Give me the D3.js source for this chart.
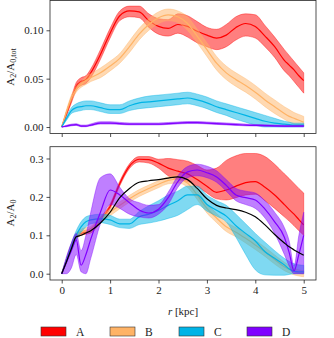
<!DOCTYPE html>
<html>
<head>
<meta charset="utf-8">
<script src="https://cdn.jsdelivr.net/npm/d3@7"></script>
<style>
  body { margin: 0; background: #fff; }
  svg text { font-family: "Liberation Serif", "DejaVu Serif", serif; fill: #222; }
</style>
</head>
<body>
<div id="viz"></div>
<script>
var width = 334, height = 338;

// radius grid (kpc)
var r = [0, 0.1, 0.2, 0.3, 0.4, 0.5, 0.6, 0.8, 1.0, 1.2, 1.4, 1.6, 1.8, 2.0, 2.2, 2.4, 2.6, 2.8, 3.0,
         3.2, 3.4, 3.6, 3.8, 4.0, 4.2, 4.4, 4.6, 4.7, 4.8, 4.9, 5.0];

var names = ["A", "B", "C", "D"];
var colors = ["#ff0000", "#ffb366", "#00b4e6", "#8000ff"];

// top panel: A2/A0,tot
var topA = [0, 0.014, 0.028, 0.042, 0.047, 0.049, 0.056, 0.075, 0.097, 0.115, 0.120, 0.119, 0.110, 0.104, 0.102, 0.106, 0.104, 0.099, 0.095, 0.092, 0.095, 0.103, 0.107, 0.104, 0.094, 0.083, 0.069, 0.064, 0.059, 0.053, 0.048];
var topAlo = [0, 0.012, 0.025, 0.038, 0.043, 0.045, 0.051, 0.070, 0.092, 0.110, 0.114, 0.113, 0.103, 0.096, 0.094, 0.097, 0.093, 0.087, 0.083, 0.080, 0.083, 0.090, 0.094, 0.092, 0.083, 0.072, 0.058, 0.053, 0.047, 0.041, 0.035];
var topAhi = [0, 0.016, 0.031, 0.046, 0.051, 0.053, 0.060, 0.080, 0.102, 0.120, 0.125, 0.125, 0.117, 0.112, 0.111, 0.117, 0.115, 0.109, 0.103, 0.101, 0.106, 0.114, 0.117, 0.116, 0.105, 0.093, 0.080, 0.074, 0.068, 0.062, 0.056];

var topB = [0, 0.016, 0.030, 0.039, 0.044, 0.048, 0.051, 0.056, 0.063, 0.071, 0.083, 0.096, 0.106, 0.113, 0.116, 0.114, 0.107, 0.094, 0.080, 0.066, 0.056, 0.049, 0.043, 0.036, 0.028, 0.021, 0.014, 0.011, 0.009, 0.007, 0.005];
var topBlo = [0, 0.014, 0.027, 0.036, 0.041, 0.044, 0.047, 0.051, 0.058, 0.066, 0.077, 0.090, 0.100, 0.107, 0.110, 0.108, 0.100, 0.087, 0.073, 0.059, 0.049, 0.042, 0.036, 0.029, 0.021, 0.014, 0.008, 0.005, 0.003, 0.002, 0.001];
var topBhi = [0, 0.018, 0.033, 0.042, 0.047, 0.052, 0.055, 0.061, 0.068, 0.076, 0.089, 0.102, 0.112, 0.119, 0.122, 0.120, 0.114, 0.101, 0.087, 0.073, 0.063, 0.056, 0.050, 0.043, 0.035, 0.028, 0.021, 0.018, 0.015, 0.013, 0.011];

var topC = [0, 0.009, 0.017, 0.020, 0.021, 0.022, 0.022, 0.020, 0.018, 0.018, 0.022, 0.025, 0.026, 0.027, 0.028, 0.029, 0.030, 0.028, 0.025, 0.021, 0.018, 0.015, 0.012, 0.009, 0.006, 0.004, 0.003, 0.0025, 0.002, 0.002, 0.002];
var topClo = [0, 0.007, 0.014, 0.016, 0.017, 0.018, 0.018, 0.016, 0.014, 0.014, 0.017, 0.019, 0.020, 0.021, 0.022, 0.023, 0.024, 0.022, 0.019, 0.015, 0.012, 0.008, 0.005, 0.002, 0.000, 0.000, 0.000, 0.000, 0.000, 0.000, 0.000];
var topChi = [0, 0.011, 0.020, 0.024, 0.026, 0.027, 0.027, 0.025, 0.023, 0.023, 0.027, 0.030, 0.032, 0.033, 0.034, 0.035, 0.036, 0.034, 0.031, 0.027, 0.024, 0.021, 0.018, 0.015, 0.012, 0.009, 0.006, 0.005, 0.004, 0.004, 0.004];

var topD = [0, 0.001, 0.002, 0.0025, 0.001, 0.001, 0.002, 0.004, 0.004, 0.0035, 0.003, 0.003, 0.003, 0.003, 0.0035, 0.004, 0.0045, 0.0045, 0.004, 0.0035, 0.003, 0.0025, 0.002, 0.0017, 0.0015, 0.0012, 0.001, 0.001, 0.001, 0.001, 0.001];
var topDlo = [0, 0.0003, 0.0012, 0.0017, 0.0003, 0.0003, 0.0012, 0.003, 0.003, 0.0027, 0.0022, 0.0022, 0.0022, 0.0022, 0.0027, 0.0032, 0.0036, 0.0036, 0.0032, 0.0027, 0.0022, 0.0017, 0.0012, 0.001, 0.0008, 0.0005, 0.0003, 0.0003, 0.0003, 0.0003, 0.0003];
var topDhi = [0, 0.0018, 0.003, 0.0035, 0.002, 0.002, 0.0032, 0.0055, 0.0055, 0.0048, 0.0042, 0.0042, 0.0042, 0.0042, 0.0047, 0.0052, 0.0057, 0.0057, 0.0052, 0.0047, 0.0042, 0.0036, 0.003, 0.0026, 0.0024, 0.002, 0.0018, 0.0018, 0.0018, 0.0018, 0.0018];

// bottom panel: A2/A0
var botA = [0, 0.035, 0.072, 0.098, 0.105, 0.108, 0.112, 0.14, 0.175, 0.235, 0.28, 0.298, 0.297, 0.288, 0.275, 0.267, 0.26, 0.245, 0.228, 0.212, 0.218, 0.228, 0.237, 0.24, 0.225, 0.205, 0.18, 0.167, 0.155, 0.141, 0.127];
var botAlo = [0, 0.03, 0.066, 0.092, 0.1, 0.103, 0.106, 0.134, 0.169, 0.229, 0.274, 0.291, 0.288, 0.275, 0.255, 0.245, 0.24, 0.228, 0.21, 0.195, 0.192, 0.198, 0.205, 0.207, 0.19, 0.17, 0.148, 0.137, 0.125, 0.112, 0.1];
var botAhi = [0, 0.04, 0.078, 0.104, 0.11, 0.113, 0.118, 0.146, 0.181, 0.241, 0.286, 0.305, 0.305, 0.298, 0.300, 0.297, 0.293, 0.282, 0.27, 0.275, 0.295, 0.307, 0.313, 0.313, 0.305, 0.285, 0.26, 0.248, 0.235, 0.222, 0.21];

var botB = [0, 0.035, 0.07, 0.098, 0.108, 0.112, 0.115, 0.14, 0.16, 0.178, 0.195, 0.21, 0.222, 0.233, 0.243, 0.246, 0.236, 0.205, 0.17, 0.145, 0.122, 0.108, 0.092, 0.075, 0.057, 0.037, 0.018, 0.012, 0.006, 0.002, 0.0];
var botBlo = [0, 0.03, 0.063, 0.09, 0.1, 0.104, 0.107, 0.132, 0.151, 0.169, 0.186, 0.201, 0.213, 0.224, 0.234, 0.236, 0.225, 0.193, 0.158, 0.133, 0.11, 0.096, 0.08, 0.063, 0.045, 0.025, 0.008, 0.002, -0.003, -0.006, -0.008];
var botBhi = [0, 0.04, 0.077, 0.106, 0.116, 0.12, 0.123, 0.148, 0.169, 0.187, 0.204, 0.219, 0.231, 0.242, 0.252, 0.256, 0.247, 0.217, 0.182, 0.157, 0.134, 0.12, 0.104, 0.087, 0.069, 0.049, 0.03, 0.022, 0.015, 0.01, 0.008];

var botC = [0, 0.035, 0.07, 0.1, 0.122, 0.135, 0.14, 0.143, 0.14, 0.13, 0.13, 0.148, 0.155, 0.165, 0.178, 0.19, 0.205, 0.205, 0.18, 0.165, 0.15, 0.125, 0.105, 0.085, 0.057, 0.04, 0.023, 0.012, 0.006, 0.005, 0.005];
var botClo = [0, 0.03, 0.06, 0.088, 0.108, 0.122, 0.13, 0.133, 0.128, 0.12, 0.118, 0.128, 0.132, 0.137, 0.144, 0.152, 0.167, 0.18, 0.163, 0.15, 0.135, 0.095, 0.05, 0.01, -0.003, -0.004, -0.004, -0.002, 0.0, 0.0, 0.0];
var botChi = [0, 0.04, 0.08, 0.112, 0.135, 0.148, 0.152, 0.155, 0.152, 0.142, 0.142, 0.162, 0.177, 0.19, 0.205, 0.215, 0.228, 0.228, 0.205, 0.19, 0.178, 0.155, 0.13, 0.105, 0.082, 0.06, 0.04, 0.032, 0.026, 0.023, 0.022];

var botD = [0, 0.03, 0.06, 0.088, 0.022, 0.05, 0.09, 0.16, 0.218, 0.205, 0.185, 0.166, 0.158, 0.168, 0.198, 0.24, 0.265, 0.27, 0.263, 0.252, 0.23, 0.205, 0.198, 0.192, 0.168, 0.135, 0.095, 0.055, 0.008, 0.05, 0.1];
var botDlo = [0, 0.0, 0.015, 0.05, 0.005, 0.0, 0.04, 0.13, 0.18, 0.17, 0.155, 0.148, 0.145, 0.155, 0.18, 0.225, 0.25, 0.255, 0.25, 0.238, 0.215, 0.19, 0.18, 0.17, 0.145, 0.105, 0.05, 0.02, 0.0, 0.0, 0.0];
var botDhi = [0, 0.045, 0.08, 0.105, 0.06, 0.1, 0.16, 0.25, 0.26, 0.225, 0.195, 0.185, 0.178, 0.18, 0.212, 0.255, 0.279, 0.285, 0.28, 0.268, 0.245, 0.222, 0.215, 0.21, 0.19, 0.16, 0.12, 0.085, 0.02, 0.1, 0.16];

var botMean = [0, 0.032, 0.065, 0.096, 0.1, 0.106, 0.112, 0.132, 0.16, 0.198, 0.222, 0.238, 0.242, 0.245, 0.249, 0.252, 0.245, 0.222, 0.195, 0.178, 0.171, 0.167, 0.16, 0.148, 0.127, 0.102, 0.08, 0.07, 0.062, 0.055, 0.048];

var xTicks = [0, 1, 2, 3, 4, 5];
var topTicks = [0, 0.05, 0.10];
var botTicks = [0, 0.1, 0.2, 0.3];

var svg = d3.select("#viz")
    .append("svg")
    .attr("width", width)
    .attr("height", height);

var x = d3.scaleLinear().domain([-0.242, 5.254]).range([50, 316]);

var panels = [
  { y: d3.scaleLinear().domain([-0.0067, 0.1308]).range([133.5, 0.5]),
    series: [[topA, topAlo, topAhi], [topB, topBlo, topBhi], [topC, topClo, topChi], [topD, topDlo, topDhi]],
    ticks: topTicks, fmt: d3.format(".2f"), labels: false },
  { y: d3.scaleLinear().domain([-0.0164, 0.3307]).range([280, 146.7]),
    series: [[botA, botAlo, botAhi], [botB, botBlo, botBhi], [botC, botClo, botChi], [botD, botDlo, botDhi]],
    ticks: botTicks, fmt: d3.format(".1f"), labels: true, mean: botMean }
];

panels.forEach(function(p, pi) {
  var g = svg.append("g");
  var y = p.y;

  var clipId = "clip" + pi;
  g.append("clipPath").attr("id", clipId)
    .append("rect")
    .attr("x", 50).attr("y", y.range()[1])
    .attr("width", 266).attr("height", y.range()[0] - y.range()[1]);

  var plot = g.append("g").attr("clip-path", "url(#" + clipId + ")");

  p.series.forEach(function(s, i) {
    var area = d3.area()
        .x(function(d, k) { return x(r[k]); })
        .y0(function(d, k) { return y(s[1][k]); })
        .y1(function(d, k) { return y(s[2][k]); })
        .curve(d3.curveMonotoneX);
    var line = d3.line()
        .x(function(d, k) { return x(r[k]); })
        .y(function(d) { return y(d); })
        .curve(d3.curveMonotoneX);

    plot.append("path")
        .attr("d", area(s[0]))
        .attr("fill", colors[i])
        .attr("fill-opacity", 0.5)
        .attr("stroke", colors[i])
        .attr("stroke-opacity", 0.5)
        .attr("stroke-width", 0.8);
    plot.append("path")
        .attr("d", line(s[0]))
        .attr("fill", "none")
        .attr("stroke", colors[i])
        .attr("stroke-width", 1.2);
  });

  if (p.mean) {
    plot.append("path")
        .attr("d", d3.line()
            .x(function(d, k) { return x(r[k]); })
            .y(function(d) { return y(d); })
            .curve(d3.curveMonotoneX)(p.mean))
        .attr("fill", "none")
        .attr("stroke", "#000")
        .attr("stroke-width", 1.2);
  }

  // axes
  var yAxis = g.append("g")
      .attr("transform", "translate(50,0)")
      .call(d3.axisLeft(y).tickValues(p.ticks).tickFormat(p.fmt).tickSize(3.5).tickPadding(3));
  var xAxis = g.append("g")
      .attr("transform", "translate(0," + y.range()[0] + ")")
      .call(d3.axisBottom(x).tickValues(xTicks).tickSize(3.5).tickPadding(3)
          .tickFormat(p.labels ? d3.format("d") : ""));
  [xAxis, yAxis].forEach(function(a) {
    a.attr("font-family", null);
    a.select(".domain").remove();
    a.selectAll(".tick line").attr("stroke", "#222").attr("stroke-width", 0.8);
    a.selectAll(".tick text").style("font-size", "11px")
        .style("font-family", '"Liberation Serif", serif').attr("fill", "#222");
  });

  g.append("rect")
      .attr("x", 50).attr("y", y.range()[1])
      .attr("width", 266).attr("height", y.range()[0] - y.range()[1])
      .attr("fill", "none")
      .attr("stroke", "#262626")
      .attr("stroke-width", 0.8);
});

// y labels
var yl1 = svg.append("text")
    .attr("transform", "translate(14,67) rotate(-90)")
    .attr("text-anchor", "middle")
    .style("font-size", "11px");
yl1.append("tspan").text("A");
yl1.append("tspan").attr("baseline-shift", "-25%").style("font-size", "8px").text("2");
yl1.append("tspan").text("/A");
yl1.append("tspan").attr("baseline-shift", "-25%").style("font-size", "8px").text("0,tot");

var yl2 = svg.append("text")
    .attr("transform", "translate(14,213) rotate(-90)")
    .attr("text-anchor", "middle")
    .style("font-size", "11px");
yl2.append("tspan").text("A");
yl2.append("tspan").attr("baseline-shift", "-25%").style("font-size", "8px").text("2");
yl2.append("tspan").text("/A");
yl2.append("tspan").attr("baseline-shift", "-25%").style("font-size", "8px").text("0");

// x label
var xl = svg.append("text")
    .attr("x", 183).attr("y", 315)
    .attr("text-anchor", "middle")
    .style("font-size", "11px");
xl.append("tspan").style("font-style", "italic").text("r");
xl.append("tspan").text(" [kpc]");

// legend
var legendX = [41, 110, 179, 247];
var legend = svg.append("g").selectAll("g")
    .data(names)
    .enter().append("g")
    .attr("transform", function(d, i) { return "translate(" + legendX[i] + ",327)"; });
legend.append("rect")
    .attr("width", 25).attr("height", 9)
    .attr("fill", function(d, i) { return colors[i]; })
    .attr("stroke", "#333").attr("stroke-width", 0.6);
legend.append("text")
    .attr("x", 35).attr("y", 9)
    .style("font-size", "11.5px")
    .text(function(d) { return d; });
</script>
</body>
</html>
